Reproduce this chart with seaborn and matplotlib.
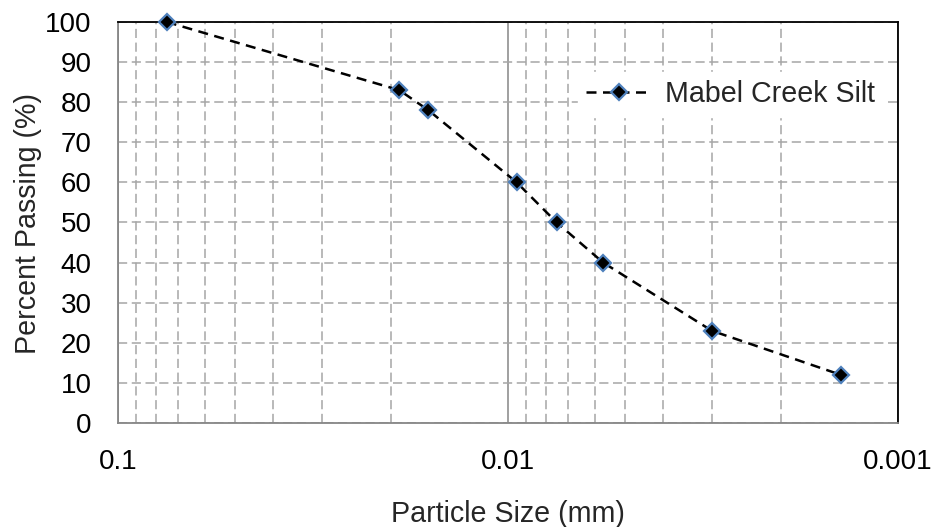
import pandas as pd
import matplotlib.pyplot as plt
import seaborn as sns
from matplotlib.ticker import FixedLocator, LogLocator, NullFormatter

# Grain size data
particle_size = [0.075, 0.019, 0.016, 0.0095, 0.0075, 0.0057, 0.003, 0.0014]
percent_passing = [100, 83, 78, 60, 50, 40, 23, 12]
series_name = "Mabel Creek Silt"

x_ticks = [0.1, 0.01, 0.001]
x_tick_labels = ["0.1", "0.01", "0.001"]
y_ticks = list(range(0, 101, 10))

df = pd.DataFrame({"size": particle_size, "passing": percent_passing})

sns.set_style("white")
plt.rcParams['font.family'] = ['Liberation Sans', 'DejaVu Sans']
fs = 20
fs_lab = 20.6

fig = plt.figure(figsize=(9.32, 5.27), dpi=100)
ax = fig.add_axes([0.1266, 0.1973, 0.8369, 0.761])

sns.lineplot(data=df, x="size", y="passing", sort=False, ax=ax,
             color="black", linestyle=(0, (4, 2.6)), linewidth=1.8,
             marker="D", markersize=8, markerfacecolor="black",
             markeredgecolor="#4f81bd", markeredgewidth=1.6,
             label=series_name, zorder=5, clip_on=False)

ax.set_xscale("log")
ax.set_xlim(0.1, 0.001)
ax.set_ylim(0, 100)

ax.xaxis.set_major_locator(FixedLocator(x_ticks))
ax.set_xticklabels(x_tick_labels)
ax.xaxis.set_minor_locator(LogLocator(base=10, subs=range(2, 10)))
ax.xaxis.set_minor_formatter(NullFormatter())
ax.set_yticks(y_ticks)

# gridlines like the spreadsheet original
ax.grid(which="minor", axis="x", color="#a6a6a6", linestyle=(0, (6, 3)), linewidth=1.1)
ax.grid(which="major", axis="x", color="#868686", linestyle="-", linewidth=1.1)
ax.grid(which="major", axis="y", color="#a6a6a6", linestyle=(0, (6, 3)), linewidth=1.1)
ax.set_axisbelow(True)

ax.tick_params(axis="both", which="both", length=0, labelsize=fs, colors="black")
ax.tick_params(axis="x", pad=18.5)
ax.tick_params(axis="y", pad=19)

for side in ["left", "bottom"]:
    ax.spines[side].set_color("#868686")
    ax.spines[side].set_linewidth(1.3)
for side in ["top", "right"]:
    ax.spines[side].set_color("black")
    ax.spines[side].set_linewidth(1.3)

ax.set_xlabel("Particle Size (mm)", fontsize=fs_lab)
ax.set_ylabel("Percent Passing (%)", fontsize=fs_lab)
ax.xaxis.set_label_coords(0.5, -0.193)
ax.yaxis.set_label_coords(-0.097, 0.4975)

leg = ax.legend(loc="center right", bbox_to_anchor=(0.982, 0.82), frameon=True,
                fontsize=fs_lab, handlelength=2.27, borderpad=0.3, handletextpad=0.5,
                borderaxespad=0)
leg.get_frame().set_edgecolor("white")
leg.get_frame().set_facecolor("white")
leg.get_frame().set_alpha(1)
leg.get_frame().set_boxstyle("square", pad=0)

plt.savefig("out.png", dpi=100)
